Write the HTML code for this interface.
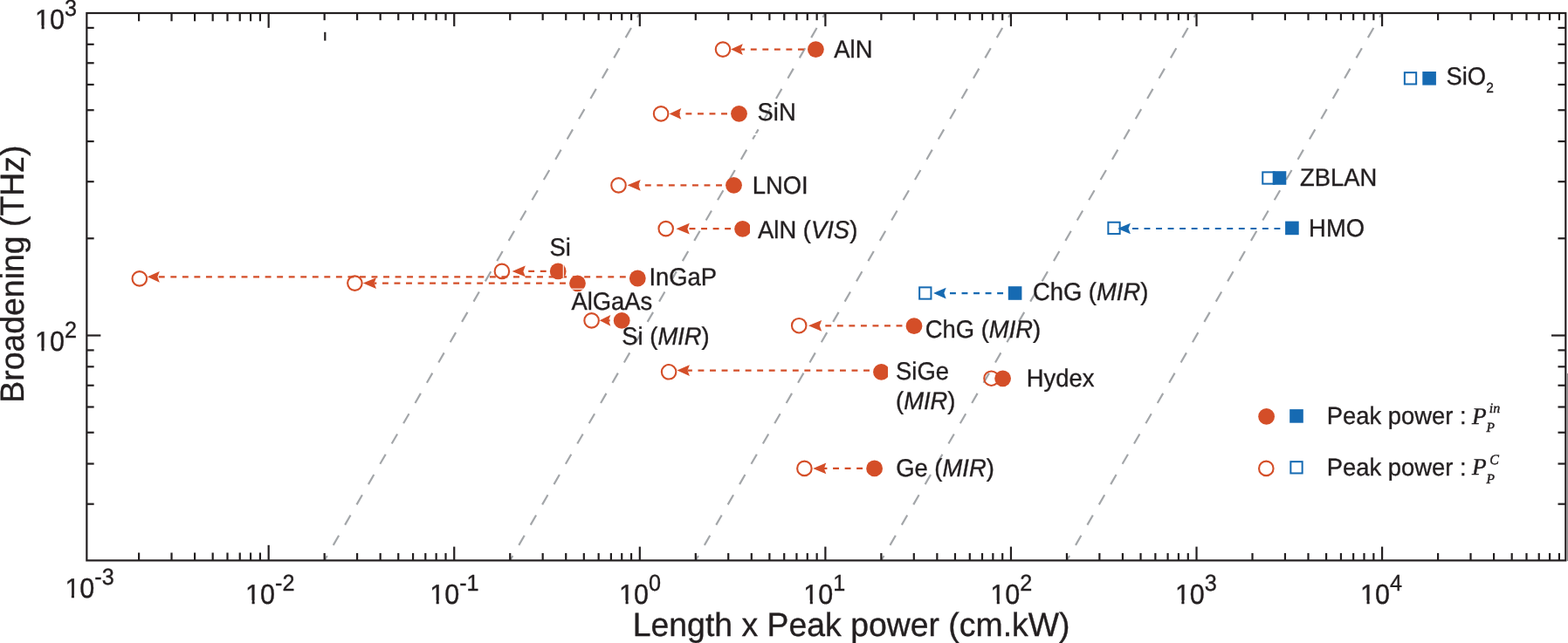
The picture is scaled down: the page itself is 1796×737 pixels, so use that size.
<!DOCTYPE html>
<html><head><meta charset="utf-8"><title>Broadening vs Length x Peak power</title>
<style>html,body{margin:0;padding:0;background:#fff;overflow:hidden}svg{display:block}text{text-rendering:geometricPrecision}</style>
</head><body>
<svg width="1796" height="737" viewBox="0 0 1796 737">
<rect width="1796" height="737" fill="#fff"/>
<g stroke="#a3a6a9" stroke-width="2.2" fill="none" stroke-dasharray="12.8 14.05" stroke-dashoffset="6.65">
<line x1="371.66" y1="642.40" x2="732.81" y2="15.00"/>
<line x1="584.23" y1="642.40" x2="945.38" y2="15.00"/>
<line x1="796.80" y1="642.40" x2="1157.95" y2="15.00"/>
<line x1="1009.37" y1="642.40" x2="1370.52" y2="15.00"/>
<line x1="1221.94" y1="642.40" x2="1583.09" y2="15.00"/>
</g>
<rect x="858" y="152.9" width="14" height="2.1" fill="#fff"/>
<line x1="934.40" y1="56.60" x2="848.40" y2="56.60" stroke="#d44e28" stroke-width="2.2" stroke-dasharray="6.9 6.64"/><path d="M837.10,56.60 L850.80,50.25 L848.40,56.60 L850.80,62.95 Z" fill="#d44e28"/>
<line x1="846.50" y1="130.40" x2="777.90" y2="130.40" stroke="#d44e28" stroke-width="2.2" stroke-dasharray="6.9 6.64"/><path d="M766.70,130.40 L780.30,124.05 L777.90,130.40 L780.30,136.75 Z" fill="#d44e28"/>
<line x1="840.50" y1="212.30" x2="731.30" y2="212.30" stroke="#d44e28" stroke-width="2.2" stroke-dasharray="6.9 6.64"/><path d="M718.60,212.30 L733.70,205.95 L731.30,212.30 L733.70,218.65 Z" fill="#d44e28"/>
<line x1="850.60" y1="262.20" x2="787.40" y2="262.20" stroke="#d44e28" stroke-width="2.2" stroke-dasharray="6.9 6.64"/><path d="M774.50,262.20 L789.80,255.85 L787.40,262.20 L789.80,268.55 Z" fill="#d44e28"/>
<line x1="639.20" y1="310.90" x2="599.40" y2="310.90" stroke="#d44e28" stroke-width="2.2" stroke-dasharray="6.9 6.64"/><path d="M586.60,310.90 L601.80,304.55 L599.40,310.90 L601.80,317.25 Z" fill="#d44e28"/>
<line x1="730.30" y1="317.30" x2="180.40" y2="317.30" stroke="#d44e28" stroke-width="2.2" stroke-dasharray="6.9 6.64"/><path d="M168.90,317.30 L182.80,310.95 L180.40,317.30 L182.80,323.65 Z" fill="#d44e28"/>
<line x1="661.50" y1="324.60" x2="428.60" y2="324.60" stroke="#d44e28" stroke-width="2.2" stroke-dasharray="6.9 6.64"/><path d="M415.80,324.60 L431.00,318.25 L428.60,324.60 L431.00,330.95 Z" fill="#d44e28"/>
<line x1="712.20" y1="367.30" x2="697.00" y2="367.30" stroke="#d44e28" stroke-width="2.2" stroke-dasharray="6.9 6.64"/><path d="M686.80,367.30 L699.40,360.95 L697.00,367.30 L699.40,373.65 Z" fill="#d44e28"/>
<line x1="1047.00" y1="373.30" x2="938.80" y2="373.30" stroke="#d44e28" stroke-width="2.2" stroke-dasharray="6.9 6.64"/><path d="M926.00,373.30 L941.20,366.95 L938.80,373.30 L941.20,379.65 Z" fill="#d44e28"/>
<line x1="1009.50" y1="424.60" x2="787.50" y2="424.60" stroke="#d44e28" stroke-width="2.2" stroke-dasharray="6.9 6.64"/><path d="M775.50,424.60 L789.90,418.25 L787.50,424.60 L789.90,430.95 Z" fill="#d44e28"/>
<line x1="1001.60" y1="536.90" x2="943.90" y2="536.90" stroke="#d44e28" stroke-width="2.2" stroke-dasharray="6.9 6.64"/><path d="M931.20,536.90 L946.30,530.55 L943.90,536.90 L946.30,543.25 Z" fill="#d44e28"/>
<line x1="1479.90" y1="262.00" x2="1292.50" y2="262.00" stroke="#166ab2" stroke-width="2.2" stroke-dasharray="6.9 6.64"/><path d="M1280.10,262.00 L1294.90,255.65 L1292.50,262.00 L1294.90,268.35 Z" fill="#166ab2"/>
<line x1="1162.60" y1="336.10" x2="1081.30" y2="336.10" stroke="#166ab2" stroke-width="2.2" stroke-dasharray="6.9 6.64"/><path d="M1069.10,336.10 L1083.70,329.75 L1081.30,336.10 L1083.70,342.45 Z" fill="#166ab2"/>
<defs><clipPath id="c1"><rect x="820" y="240" width="39" height="40"/></clipPath><clipPath id="c2"><rect x="980" y="400" width="36.9" height="50"/></clipPath></defs>
<circle cx="828.0" cy="56.6" r="8.25" fill="none" stroke="#d44e28" stroke-width="2.1"/>
<circle cx="934.4" cy="56.6" r="9.4" fill="#d44e28"/>
<circle cx="757.1" cy="130.4" r="8.25" fill="none" stroke="#d44e28" stroke-width="2.1"/>
<circle cx="846.5" cy="130.3" r="9.4" fill="#d44e28"/>
<circle cx="708.5" cy="212.4" r="8.25" fill="none" stroke="#d44e28" stroke-width="2.1"/>
<circle cx="840.5" cy="212.3" r="9.4" fill="#d44e28"/>
<circle cx="762.7" cy="262.1" r="8.25" fill="none" stroke="#d44e28" stroke-width="2.1"/>
<circle cx="850.6" cy="262.4" r="9.4" fill="#d44e28" clip-path="url(#c1)"/>
<circle cx="574.9" cy="310.9" r="8.25" fill="none" stroke="#d44e28" stroke-width="2.1"/>
<circle cx="639.2" cy="310.9" r="9.4" fill="#d44e28"/>
<circle cx="159.8" cy="319.4" r="8.25" fill="none" stroke="#d44e28" stroke-width="2.1"/>
<circle cx="730.3" cy="319.0" r="9.4" fill="#d44e28"/>
<circle cx="406.4" cy="324.6" r="8.25" fill="none" stroke="#d44e28" stroke-width="2.1"/>
<circle cx="661.5" cy="324.8" r="9.4" fill="#d44e28"/>
<circle cx="677.6" cy="367.4" r="8.25" fill="none" stroke="#d44e28" stroke-width="2.1"/>
<circle cx="712.2" cy="367.4" r="9.4" fill="#d44e28"/>
<circle cx="915.2" cy="373.2" r="8.25" fill="none" stroke="#d44e28" stroke-width="2.1"/>
<circle cx="1047.0" cy="373.7" r="9.4" fill="#d44e28"/>
<circle cx="766.1" cy="426.3" r="8.25" fill="none" stroke="#d44e28" stroke-width="2.1"/>
<circle cx="1009.5" cy="426.4" r="9.4" fill="#d44e28" clip-path="url(#c2)"/>
<circle cx="1135.5" cy="433.7" r="8.25" fill="none" stroke="#d44e28" stroke-width="2.1"/>
<circle cx="1148.6" cy="433.8" r="9.4" fill="#d44e28"/>
<circle cx="921.4" cy="536.9" r="8.25" fill="none" stroke="#d44e28" stroke-width="2.1"/>
<circle cx="1001.6" cy="536.9" r="9.4" fill="#d44e28"/>
<line x1="645.3" y1="303" x2="645.3" y2="318.4" stroke="#fff" stroke-width="1.1"/>
<line x1="653.3" y1="331.2" x2="670.6" y2="331.2" stroke="#fff" stroke-width="1.1"/>
<rect x="1608.85" y="83.15" width="13.3" height="13.3" fill="none" stroke="#166ab2" stroke-width="2"/>
<rect x="1629.30" y="82.00" width="15.6" height="15.6" fill="#166ab2"/>
<rect x="1446.25" y="197.35" width="13.3" height="13.3" fill="none" stroke="#166ab2" stroke-width="2"/>
<rect x="1457.70" y="196.20" width="15.6" height="15.6" fill="#166ab2"/>
<rect x="1269.35" y="254.75" width="13.3" height="13.3" fill="none" stroke="#166ab2" stroke-width="2"/>
<rect x="1472.10" y="253.60" width="15.6" height="15.6" fill="#166ab2"/>
<rect x="1053.15" y="329.35" width="13.3" height="13.3" fill="none" stroke="#166ab2" stroke-width="2"/>
<rect x="1154.80" y="328.20" width="15.6" height="15.6" fill="#166ab2"/>
<g stroke="#231f20" stroke-width="2.2" fill="none">
<rect x="99.35" y="15.0" width="1693.95" height="627.40"/>
<line x1="159.09" y1="642.4" x2="159.09" y2="633.5"/>
<line x1="159.09" y1="15.0" x2="159.09" y2="24.3"/>
<line x1="196.52" y1="642.4" x2="196.52" y2="633.5"/>
<line x1="196.52" y1="15.0" x2="196.52" y2="24.3"/>
<line x1="223.08" y1="642.4" x2="223.08" y2="633.5"/>
<line x1="223.08" y1="15.0" x2="223.08" y2="24.3"/>
<line x1="243.68" y1="642.4" x2="243.68" y2="633.5"/>
<line x1="243.68" y1="15.0" x2="243.68" y2="24.3"/>
<line x1="260.51" y1="642.4" x2="260.51" y2="633.5"/>
<line x1="260.51" y1="15.0" x2="260.51" y2="24.3"/>
<line x1="274.74" y1="642.4" x2="274.74" y2="633.5"/>
<line x1="274.74" y1="15.0" x2="274.74" y2="24.3"/>
<line x1="287.07" y1="642.4" x2="287.07" y2="633.5"/>
<line x1="287.07" y1="15.0" x2="287.07" y2="24.3"/>
<line x1="297.94" y1="642.4" x2="297.94" y2="633.5"/>
<line x1="297.94" y1="15.0" x2="297.94" y2="24.3"/>
<line x1="307.67" y1="642.4" x2="307.67" y2="624.8"/>
<line x1="307.67" y1="15.0" x2="307.67" y2="31.9"/>
<line x1="371.66" y1="642.4" x2="371.66" y2="634.0"/>
<line x1="371.66" y1="15.0" x2="371.66" y2="23.2"/>
<line x1="409.09" y1="642.4" x2="409.09" y2="634.0"/>
<line x1="409.09" y1="15.0" x2="409.09" y2="23.2"/>
<line x1="435.65" y1="642.4" x2="435.65" y2="634.0"/>
<line x1="435.65" y1="15.0" x2="435.65" y2="23.2"/>
<line x1="456.25" y1="642.4" x2="456.25" y2="634.0"/>
<line x1="456.25" y1="15.0" x2="456.25" y2="23.2"/>
<line x1="473.08" y1="642.4" x2="473.08" y2="634.0"/>
<line x1="473.08" y1="15.0" x2="473.08" y2="23.2"/>
<line x1="487.31" y1="642.4" x2="487.31" y2="634.0"/>
<line x1="487.31" y1="15.0" x2="487.31" y2="23.2"/>
<line x1="499.64" y1="642.4" x2="499.64" y2="634.0"/>
<line x1="499.64" y1="15.0" x2="499.64" y2="23.2"/>
<line x1="510.51" y1="642.4" x2="510.51" y2="634.0"/>
<line x1="510.51" y1="15.0" x2="510.51" y2="23.2"/>
<line x1="520.24" y1="642.4" x2="520.24" y2="626.6"/>
<line x1="520.24" y1="15.0" x2="520.24" y2="30.2"/>
<line x1="584.23" y1="642.4" x2="584.23" y2="634.0"/>
<line x1="584.23" y1="15.0" x2="584.23" y2="23.2"/>
<line x1="621.66" y1="642.4" x2="621.66" y2="634.0"/>
<line x1="621.66" y1="15.0" x2="621.66" y2="23.2"/>
<line x1="648.22" y1="642.4" x2="648.22" y2="634.0"/>
<line x1="648.22" y1="15.0" x2="648.22" y2="23.2"/>
<line x1="668.82" y1="642.4" x2="668.82" y2="634.0"/>
<line x1="668.82" y1="15.0" x2="668.82" y2="23.2"/>
<line x1="685.65" y1="642.4" x2="685.65" y2="634.0"/>
<line x1="685.65" y1="15.0" x2="685.65" y2="23.2"/>
<line x1="699.88" y1="642.4" x2="699.88" y2="634.0"/>
<line x1="699.88" y1="15.0" x2="699.88" y2="23.2"/>
<line x1="712.21" y1="642.4" x2="712.21" y2="634.0"/>
<line x1="712.21" y1="15.0" x2="712.21" y2="23.2"/>
<line x1="723.08" y1="642.4" x2="723.08" y2="634.0"/>
<line x1="723.08" y1="15.0" x2="723.08" y2="23.2"/>
<line x1="732.81" y1="642.4" x2="732.81" y2="626.6"/>
<line x1="732.81" y1="15.0" x2="732.81" y2="30.2"/>
<line x1="796.80" y1="642.4" x2="796.80" y2="634.0"/>
<line x1="796.80" y1="15.0" x2="796.80" y2="23.2"/>
<line x1="834.23" y1="642.4" x2="834.23" y2="634.0"/>
<line x1="834.23" y1="15.0" x2="834.23" y2="23.2"/>
<line x1="860.79" y1="642.4" x2="860.79" y2="634.0"/>
<line x1="860.79" y1="15.0" x2="860.79" y2="23.2"/>
<line x1="881.39" y1="642.4" x2="881.39" y2="634.0"/>
<line x1="881.39" y1="15.0" x2="881.39" y2="23.2"/>
<line x1="898.22" y1="642.4" x2="898.22" y2="634.0"/>
<line x1="898.22" y1="15.0" x2="898.22" y2="23.2"/>
<line x1="912.45" y1="642.4" x2="912.45" y2="634.0"/>
<line x1="912.45" y1="15.0" x2="912.45" y2="23.2"/>
<line x1="924.78" y1="642.4" x2="924.78" y2="634.0"/>
<line x1="924.78" y1="15.0" x2="924.78" y2="23.2"/>
<line x1="935.65" y1="642.4" x2="935.65" y2="634.0"/>
<line x1="935.65" y1="15.0" x2="935.65" y2="23.2"/>
<line x1="945.38" y1="642.4" x2="945.38" y2="626.6"/>
<line x1="945.38" y1="15.0" x2="945.38" y2="30.2"/>
<line x1="1009.37" y1="642.4" x2="1009.37" y2="634.0"/>
<line x1="1009.37" y1="15.0" x2="1009.37" y2="23.2"/>
<line x1="1046.80" y1="642.4" x2="1046.80" y2="634.0"/>
<line x1="1046.80" y1="15.0" x2="1046.80" y2="23.2"/>
<line x1="1073.36" y1="642.4" x2="1073.36" y2="634.0"/>
<line x1="1073.36" y1="15.0" x2="1073.36" y2="23.2"/>
<line x1="1093.96" y1="642.4" x2="1093.96" y2="634.0"/>
<line x1="1093.96" y1="15.0" x2="1093.96" y2="23.2"/>
<line x1="1110.79" y1="642.4" x2="1110.79" y2="634.0"/>
<line x1="1110.79" y1="15.0" x2="1110.79" y2="23.2"/>
<line x1="1125.02" y1="642.4" x2="1125.02" y2="634.0"/>
<line x1="1125.02" y1="15.0" x2="1125.02" y2="23.2"/>
<line x1="1137.35" y1="642.4" x2="1137.35" y2="634.0"/>
<line x1="1137.35" y1="15.0" x2="1137.35" y2="23.2"/>
<line x1="1148.22" y1="642.4" x2="1148.22" y2="634.0"/>
<line x1="1148.22" y1="15.0" x2="1148.22" y2="23.2"/>
<line x1="1157.95" y1="642.4" x2="1157.95" y2="626.6"/>
<line x1="1157.95" y1="15.0" x2="1157.95" y2="30.2"/>
<line x1="1221.94" y1="642.4" x2="1221.94" y2="634.0"/>
<line x1="1221.94" y1="15.0" x2="1221.94" y2="23.2"/>
<line x1="1259.37" y1="642.4" x2="1259.37" y2="634.0"/>
<line x1="1259.37" y1="15.0" x2="1259.37" y2="23.2"/>
<line x1="1285.93" y1="642.4" x2="1285.93" y2="634.0"/>
<line x1="1285.93" y1="15.0" x2="1285.93" y2="23.2"/>
<line x1="1306.53" y1="642.4" x2="1306.53" y2="634.0"/>
<line x1="1306.53" y1="15.0" x2="1306.53" y2="23.2"/>
<line x1="1323.36" y1="642.4" x2="1323.36" y2="634.0"/>
<line x1="1323.36" y1="15.0" x2="1323.36" y2="23.2"/>
<line x1="1337.59" y1="642.4" x2="1337.59" y2="634.0"/>
<line x1="1337.59" y1="15.0" x2="1337.59" y2="23.2"/>
<line x1="1349.92" y1="642.4" x2="1349.92" y2="634.0"/>
<line x1="1349.92" y1="15.0" x2="1349.92" y2="23.2"/>
<line x1="1360.79" y1="642.4" x2="1360.79" y2="634.0"/>
<line x1="1360.79" y1="15.0" x2="1360.79" y2="23.2"/>
<line x1="1370.52" y1="642.4" x2="1370.52" y2="626.6"/>
<line x1="1370.52" y1="15.0" x2="1370.52" y2="30.2"/>
<line x1="1434.51" y1="642.4" x2="1434.51" y2="634.0"/>
<line x1="1434.51" y1="15.0" x2="1434.51" y2="23.2"/>
<line x1="1471.94" y1="642.4" x2="1471.94" y2="634.0"/>
<line x1="1471.94" y1="15.0" x2="1471.94" y2="23.2"/>
<line x1="1498.50" y1="642.4" x2="1498.50" y2="634.0"/>
<line x1="1498.50" y1="15.0" x2="1498.50" y2="23.2"/>
<line x1="1519.10" y1="642.4" x2="1519.10" y2="634.0"/>
<line x1="1519.10" y1="15.0" x2="1519.10" y2="23.2"/>
<line x1="1535.93" y1="642.4" x2="1535.93" y2="634.0"/>
<line x1="1535.93" y1="15.0" x2="1535.93" y2="23.2"/>
<line x1="1550.16" y1="642.4" x2="1550.16" y2="634.0"/>
<line x1="1550.16" y1="15.0" x2="1550.16" y2="23.2"/>
<line x1="1562.49" y1="642.4" x2="1562.49" y2="634.0"/>
<line x1="1562.49" y1="15.0" x2="1562.49" y2="23.2"/>
<line x1="1573.36" y1="642.4" x2="1573.36" y2="634.0"/>
<line x1="1573.36" y1="15.0" x2="1573.36" y2="23.2"/>
<line x1="1583.09" y1="642.4" x2="1583.09" y2="626.6"/>
<line x1="1583.09" y1="15.0" x2="1583.09" y2="30.2"/>
<line x1="1647.08" y1="642.4" x2="1647.08" y2="634.0"/>
<line x1="1647.08" y1="15.0" x2="1647.08" y2="23.2"/>
<line x1="1684.51" y1="642.4" x2="1684.51" y2="634.0"/>
<line x1="1684.51" y1="15.0" x2="1684.51" y2="23.2"/>
<line x1="1711.07" y1="642.4" x2="1711.07" y2="634.0"/>
<line x1="1711.07" y1="15.0" x2="1711.07" y2="23.2"/>
<line x1="1731.67" y1="642.4" x2="1731.67" y2="634.0"/>
<line x1="1731.67" y1="15.0" x2="1731.67" y2="23.2"/>
<line x1="1748.50" y1="642.4" x2="1748.50" y2="634.0"/>
<line x1="1748.50" y1="15.0" x2="1748.50" y2="23.2"/>
<line x1="1762.73" y1="642.4" x2="1762.73" y2="634.0"/>
<line x1="1762.73" y1="15.0" x2="1762.73" y2="23.2"/>
<line x1="1775.06" y1="642.4" x2="1775.06" y2="634.0"/>
<line x1="1775.06" y1="15.0" x2="1775.06" y2="23.2"/>
<line x1="1785.93" y1="642.4" x2="1785.93" y2="634.0"/>
<line x1="1785.93" y1="15.0" x2="1785.93" y2="23.2"/>
<line x1="99.35" y1="577.70" x2="107.64999999999999" y2="577.70"/>
<line x1="1793.3" y1="577.70" x2="1784.5" y2="577.70"/>
<line x1="99.35" y1="531.54" x2="107.64999999999999" y2="531.54"/>
<line x1="1793.3" y1="531.54" x2="1784.5" y2="531.54"/>
<line x1="99.35" y1="495.73" x2="107.64999999999999" y2="495.73"/>
<line x1="1793.3" y1="495.73" x2="1784.5" y2="495.73"/>
<line x1="99.35" y1="466.47" x2="107.64999999999999" y2="466.47"/>
<line x1="1793.3" y1="466.47" x2="1784.5" y2="466.47"/>
<line x1="99.35" y1="441.74" x2="107.64999999999999" y2="441.74"/>
<line x1="1793.3" y1="441.74" x2="1784.5" y2="441.74"/>
<line x1="99.35" y1="420.31" x2="107.64999999999999" y2="420.31"/>
<line x1="1793.3" y1="420.31" x2="1784.5" y2="420.31"/>
<line x1="99.35" y1="401.41" x2="107.64999999999999" y2="401.41"/>
<line x1="1793.3" y1="401.41" x2="1784.5" y2="401.41"/>
<line x1="99.35" y1="384.50" x2="115.35" y2="384.50"/>
<line x1="1793.3" y1="384.50" x2="1777.0" y2="384.50"/>
<line x1="99.35" y1="273.27" x2="107.64999999999999" y2="273.27"/>
<line x1="1793.3" y1="273.27" x2="1784.5" y2="273.27"/>
<line x1="99.35" y1="208.20" x2="107.64999999999999" y2="208.20"/>
<line x1="1793.3" y1="208.20" x2="1784.5" y2="208.20"/>
<line x1="99.35" y1="162.04" x2="107.64999999999999" y2="162.04"/>
<line x1="1793.3" y1="162.04" x2="1784.5" y2="162.04"/>
<line x1="99.35" y1="126.23" x2="107.64999999999999" y2="126.23"/>
<line x1="1793.3" y1="126.23" x2="1784.5" y2="126.23"/>
<line x1="99.35" y1="96.97" x2="107.64999999999999" y2="96.97"/>
<line x1="1793.3" y1="96.97" x2="1784.5" y2="96.97"/>
<line x1="99.35" y1="72.24" x2="107.64999999999999" y2="72.24"/>
<line x1="1793.3" y1="72.24" x2="1784.5" y2="72.24"/>
<line x1="99.35" y1="50.81" x2="107.64999999999999" y2="50.81"/>
<line x1="1793.3" y1="50.81" x2="1784.5" y2="50.81"/>
<line x1="99.35" y1="31.91" x2="107.64999999999999" y2="31.91"/>
<line x1="1793.3" y1="31.91" x2="1784.5" y2="31.91"/>
<line x1="372.3" y1="36.8" x2="372.3" y2="46.6"/>
<rect x="1794.9" y="428" width="1.1" height="215" fill="#8a8a8a" stroke="none"/>
</g>
<g font-family="'Liberation Sans', Arial, sans-serif" fill="#231f20" stroke="#231f20" stroke-width="0.35">
<text transform="translate(281.10,691.80) scale(1,1.04)" font-size="30.5">10<tspan font-size="25.2" dy="-14.33">-2</tspan></text>
<text transform="translate(492.20,691.80) scale(1,1.04)" font-size="30.5">10<tspan font-size="25.2" dy="-14.33">-1</tspan></text>
<text transform="translate(709.10,691.80) scale(1,1.04)" font-size="30.5">10<tspan font-size="25.2" dy="-14.33">0</tspan></text>
<text transform="translate(920.30,691.80) scale(1,1.04)" font-size="30.5">10<tspan font-size="25.2" dy="-14.33">1</tspan></text>
<text transform="translate(1134.30,691.80) scale(1,1.04)" font-size="30.5">10<tspan font-size="25.2" dy="-14.33">2</tspan></text>
<text transform="translate(1345.90,691.80) scale(1,1.04)" font-size="30.5">10<tspan font-size="25.2" dy="-14.33">3</tspan></text>
<text transform="translate(1558.10,691.80) scale(1,1.04)" font-size="30.5">10<tspan font-size="25.2" dy="-14.33">4</tspan></text>
<text transform="translate(74.40,684.80) scale(1,1.04)" font-size="30.5">10<tspan font-size="25.2" dy="-14.33">-3</tspan></text>
<text transform="translate(40.10,33.00) scale(1,1.04)" font-size="30.5">10<tspan font-size="25.2" dy="-14.90">3</tspan></text>
<text transform="translate(40.00,402.40) scale(1,1.04)" font-size="30.5">10<tspan font-size="25.2" dy="-14.90">2</tspan></text>
</g>
<g fill="#fff">
<rect x="282.22" y="688.03" width="6.35" height="5.57"/>
<rect x="291.67" y="688.03" width="5.91" height="5.57"/>
<rect x="493.32" y="688.03" width="6.35" height="5.57"/>
<rect x="502.77" y="688.03" width="5.91" height="5.57"/>
<rect x="710.22" y="688.03" width="6.35" height="5.57"/>
<rect x="719.67" y="688.03" width="5.91" height="5.57"/>
<rect x="921.42" y="688.03" width="6.35" height="5.57"/>
<rect x="930.87" y="688.03" width="5.91" height="5.57"/>
<rect x="1135.42" y="688.03" width="6.35" height="5.57"/>
<rect x="1144.87" y="688.03" width="5.91" height="5.57"/>
<rect x="1347.02" y="688.03" width="6.35" height="5.57"/>
<rect x="1356.47" y="688.03" width="5.91" height="5.57"/>
<rect x="1559.22" y="688.03" width="6.35" height="5.57"/>
<rect x="1568.67" y="688.03" width="5.91" height="5.57"/>
<rect x="75.52" y="681.03" width="6.35" height="5.57"/>
<rect x="84.97" y="681.03" width="5.91" height="5.57"/>
<rect x="41.22" y="29.23" width="6.35" height="5.57"/>
<rect x="50.67" y="29.23" width="5.91" height="5.57"/>
<rect x="41.12" y="398.63" width="6.35" height="5.57"/>
<rect x="50.57" y="398.63" width="5.91" height="5.57"/>
</g>
<g font-family="'Liberation Sans', Arial, sans-serif" fill="#231f20" stroke="#231f20" stroke-width="0.35">
<text transform="translate(724.7,728.9) scale(1,1.02)" font-size="37.4">Length x Peak power (cm.kW)</text>
<text transform="translate(27.1,461.7) rotate(-90) scale(1,1.02)" font-size="37.4">Broadening (THz)</text>
</g>
<g font-family="'Liberation Sans', Arial, sans-serif" fill="#231f20" font-size="27.4" stroke="#231f20" stroke-width="0.35">
<text transform="translate(955.30,66.20) scale(1,1.04)">AlN</text>
<text transform="translate(867.60,138.00) scale(1,1.04)">SiN</text>
<text transform="translate(861.80,221.60) scale(1,1.04)">LNOI</text>
<text transform="translate(868.10,273.10) scale(1,1.04)">AlN (<tspan font-style="italic">VIS</tspan>)</text>
<text transform="translate(629.50,293.00) scale(1,1.04)">Si</text>
<text transform="translate(743.40,326.80) scale(1,1.04)">InGaP</text>
<text transform="translate(654.40,355.30) scale(1,1.04)">AlGaAs</text>
<text transform="translate(712.30,395.40) scale(1,1.04)">Si (<tspan font-style="italic">MIR</tspan>)</text>
<text transform="translate(1059.80,386.50) scale(1,1.04)">ChG (<tspan font-style="italic">MIR</tspan>)</text>
<text transform="translate(1026.10,434.60) scale(1,1.04)">SiGe</text>
<text transform="translate(1026.00,468.50) scale(1,1.04)">(<tspan font-style="italic">MIR</tspan>)</text>
<text transform="translate(1175.80,443.30) scale(1,1.04)">Hydex</text>
<text transform="translate(1026.20,546.20) scale(1,1.04)">Ge (<tspan font-style="italic">MIR</tspan>)</text>
<text transform="translate(1182.90,343.60) scale(1,1.04)">ChG (<tspan font-style="italic">MIR</tspan>)</text>
<text transform="translate(1488.90,212.70) scale(1,1.04)">ZBLAN</text>
<text transform="translate(1499.10,270.80) scale(1,1.04)">HMO</text>
<text transform="translate(1656.50,97.20) scale(1,1.04)">SiO<tspan font-size="15.5" dy="8.27">2</tspan></text>
<text transform="translate(1519.7,485.9) scale(1,1.02)">Peak power :</text>
<text transform="translate(1519.7,545.2) scale(1,1.02)">Peak power :</text>
</g>
<circle cx="1450.6" cy="477.4" r="9.4" fill="#d44e28"/>
<rect x="1477.20" y="469.10" width="15.6" height="15.6" fill="#166ab2"/>
<circle cx="1450.3" cy="536.9" r="8.25" fill="none" stroke="#d44e28" stroke-width="2.1"/>
<rect x="1478.35" y="529.15" width="13.3" height="13.3" fill="none" stroke="#166ab2" stroke-width="2"/>
<g font-family="'Liberation Serif', 'Times New Roman', serif" font-style="italic" fill="#231f20" stroke="#231f20" stroke-width="0.45">
<text x="1686.0" y="485.6" font-size="27.3">P</text>
<text x="1705.8" y="473.2" font-size="16">in</text>
<text x="1702.5" y="495.0" font-size="15.5">P</text>
<text x="1686.0" y="544.4" font-size="27.3">P</text>
<text x="1706.2" y="532.0" font-size="16">C</text>
<text x="1702.5" y="554.0" font-size="15.5">P</text>
</g>
</svg>
</body></html>
